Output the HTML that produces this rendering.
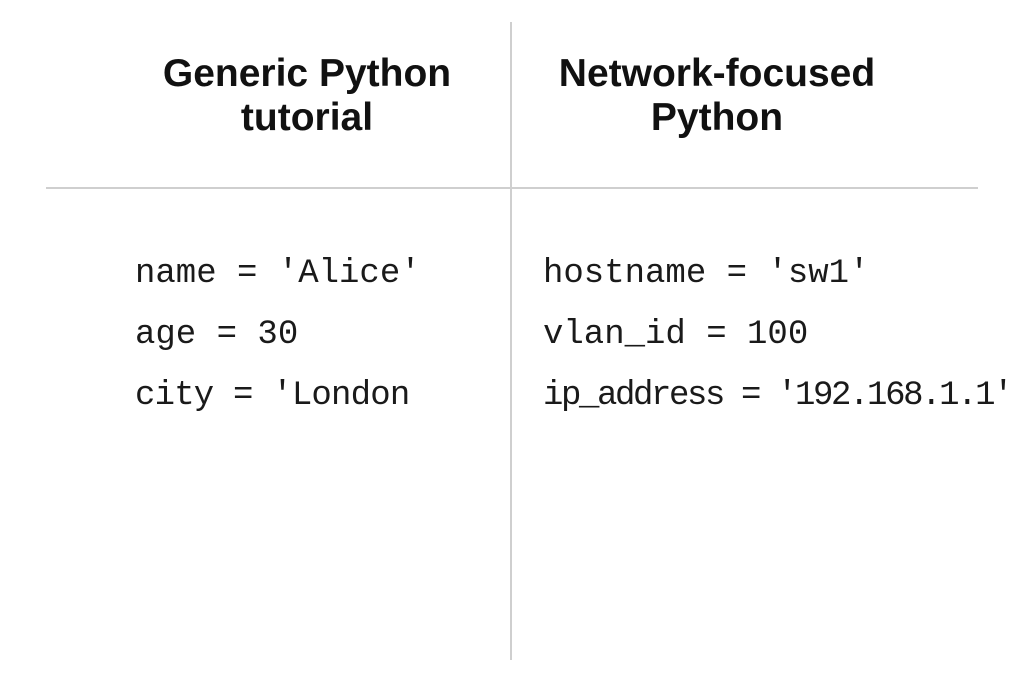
<!DOCTYPE html>
<html><head><meta charset="utf-8">
<style>
html,body{margin:0;padding:0;background:#fff;}
body{width:1024px;height:683px;position:relative;overflow:hidden;}
.v{position:absolute;left:510px;top:22px;width:2px;height:638px;background:#cfcfcf;}
.h{position:absolute;left:46px;top:187px;width:932px;height:2px;background:#cfcfcf;}
.hd{position:absolute;font-family:"Liberation Sans",sans-serif;font-weight:bold;font-size:39px;line-height:44px;color:#111;text-align:center;width:400px;}
.c{position:absolute;font-family:"Liberation Mono",monospace;font-size:34px;color:#1a1a1a;white-space:pre;line-height:40px;}
</style></head><body>
<div class="v"></div><div class="h"></div>
<div class="hd" style="left:107px;top:52px">Generic Python<br>tutorial</div>
<div class="hd" style="left:517px;top:52px">Network-focused<br>Python</div>
<div class="c" style="left:135px;top:254px">name = 'Alice'</div>
<div class="c" style="left:135px;top:315px">age = 30</div>
<div class="c" style="left:135px;top:376px;letter-spacing:-0.8px">city = 'London</div>
<div class="c" style="left:543px;top:254px">hostname = 'sw1'</div>
<div class="c" style="left:543px;top:315px">vlan_id = 100</div>
<div class="c" style="left:543px;top:376px;letter-spacing:-2.4px">ip_address = '192.168.1.1'</div>
</body></html>
